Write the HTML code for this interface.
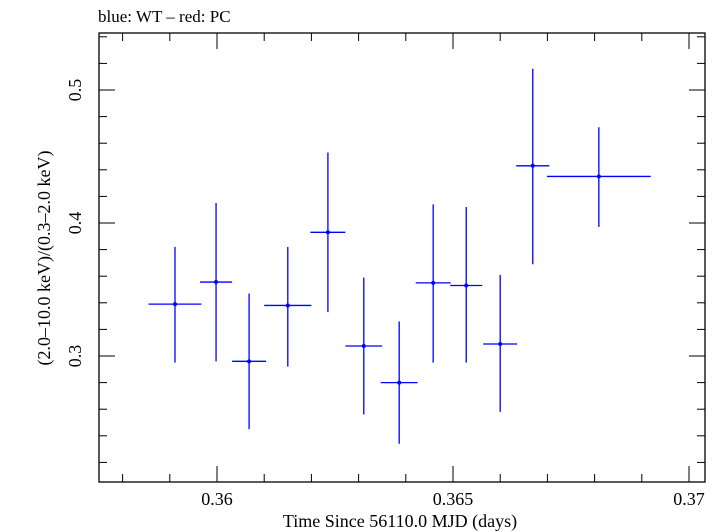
<!DOCTYPE html>
<html><head><meta charset="utf-8"><style>
body{margin:0;background:#fff;}
svg{display:block;font-family:"Liberation Serif",serif;}
</style></head><body>
<svg id="chart" width="713" height="532">
<text x="98" y="22" font-size="17">blue: WT – red: PC</text>
<g id="axes"></g>
<g id="marks"></g>
<text x="400" y="527" font-size="18" text-anchor="middle">Time Since 56110.0 MJD (days)</text>
<text transform="translate(50,258) rotate(-90)" font-size="18" text-anchor="middle">(2.0–10.0 keV)/(0.3–2.0 keV)</text>
</svg>
<script>
const times=[0.35911,0.35998,0.36068,0.36150,0.36235,0.36311,0.36386,0.36458,0.36528,0.36600,0.36669,0.36809];
const halfWidths=[0.00056,0.00034,0.00036,0.0005,0.00037,0.00039,0.00039,0.00037,0.00034,0.00036,0.00035,0.0011];
const ratios=[0.339,0.3556,0.296,0.338,0.393,0.3075,0.280,0.355,0.353,0.309,0.443,0.435];
const errHigh=[0.382,0.415,0.347,0.382,0.453,0.359,0.326,0.414,0.412,0.361,0.516,0.472];
const errLow=[0.295,0.296,0.245,0.292,0.333,0.256,0.234,0.295,0.295,0.258,0.369,0.397];
const xTicks=[0.36,0.365,0.37];
const xTickLabels=["0.36","0.365","0.37"];
const yTicks=[0.3,0.4,0.5];
const yTickLabels=["0.3","0.4","0.5"];
const L=99,R=705,T=33,B=482;
const X0=0.3575,X1=X0+(R-L)/47200,Y0=0.3-(B-356)/1330,Y1=0.5+(90-T)/1330;
const sx=v=>L+(v-X0)/(X1-X0)*(R-L);
const sy=v=>B-(v-Y0)/(Y1-Y0)*(B-T);
const NS="http://www.w3.org/2000/svg";
function mk(tag,attrs,parent){const e=document.createElementNS(NS,tag);for(const k in attrs)e.setAttribute(k,attrs[k]);parent.appendChild(e);return e;}
const ax=document.getElementById('axes'),mg=document.getElementById('marks');
const frame=mk('rect',{x:L,y:T,width:R-L,height:B-T,fill:'none',stroke:'#000','stroke-width':1.3},ax);


for(let i=0;;i++){const v=0.358+i*0.001;if(v>X1)break;const x=sx(v);const major=Math.abs(v*200-Math.round(v*200))<1e-6;const len=major?16:8;
mk('line',{x1:x,x2:x,y1:B,y2:B-len,stroke:'#000'},ax);mk('line',{x1:x,x2:x,y1:T,y2:T+len,stroke:'#000'},ax);}
for(let i=0;;i++){const v=0.22+i*0.02;if(v>Y1)break;const y=sy(v);const major=Math.abs(v*10-Math.round(v*10))<1e-6;const len=major?16:8;
mk('line',{x1:L,x2:L+len,y1:y,y2:y,stroke:'#000'},ax);mk('line',{x1:R,x2:R-len,y1:y,y2:y,stroke:'#000'},ax);}
xTicks.forEach((v,i)=>{const t=mk('text',{x:sx(v),y:505,'font-size':18,'text-anchor':'middle'},ax);t.textContent=xTickLabels[i];

});
yTicks.forEach((v,i)=>{const t=mk('text',{transform:`translate(81,${sy(v)}) rotate(-90)`,'font-size':18,'text-anchor':'middle'},ax);t.textContent=yTickLabels[i];

});
times.forEach((t,i)=>{const g=mk('g',{stroke:'#0000ff','stroke-width':1.3},mg);


mk('line',{x1:sx(t-halfWidths[i]),x2:sx(t+halfWidths[i]),y1:sy(ratios[i]),y2:sy(ratios[i])},g);
mk('line',{x1:sx(t),x2:sx(t),y1:sy(errLow[i]),y2:sy(errHigh[i])},g);
mk('circle',{cx:sx(t),cy:sy(ratios[i]),r:2,fill:'#0000ff',stroke:'none'},g);});
</script>
</body></html>
